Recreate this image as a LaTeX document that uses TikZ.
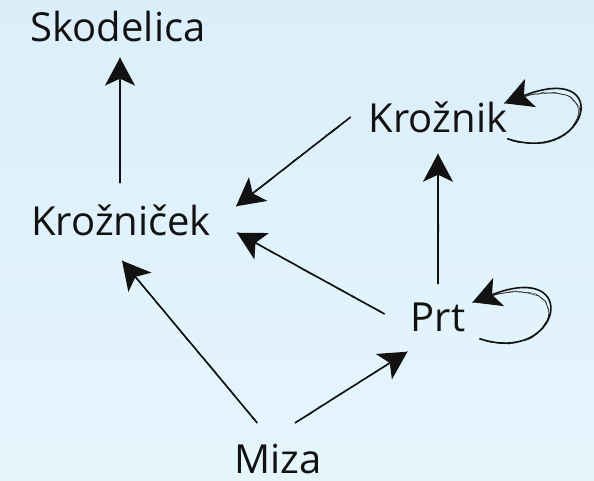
\documentclass[tikz,border=0pt]{standalone}
\usepackage{fontspec}
\setsansfont{Open Sans}
\usetikzlibrary{arrows.meta, calc, decorations.pathmorphing}
\definecolor{bgTop}{RGB}{219,239,250}
\definecolor{bgBot}{RGB}{229,245,252}
\definecolor{ink}  {RGB}{ 18, 18, 18}

\begin{document}
\begin{tikzpicture}[
  x=1pt, y=1pt,
  %% ── node styles ──────────────────────────────────────────────────────────
  word/.style  = {inner sep=0pt, text=ink,
                  font=\fontsize{40}{48}\selectfont\sffamily},
  %% ── arrow styles ─────────────────────────────────────────────────────────
  brush/.style = {-{Stealth[length=28pt, width=30pt, inset=7pt]},
                  line width=1.6pt, color=ink,
                  postaction={draw=ink, -, line width=0.5pt, decorate,
                    decoration={random steps, segment length=4pt, amplitude=0.6pt}},
                  postaction={draw=ink, -, line width=0.4pt, decorate,
                    decoration={random steps, segment length=6pt, amplitude=0.9pt}}},
]
\pgfmathsetseed{11}

%% ── background ─────────────────────────────────────────────────────────────
\shade[top color=bgTop, bottom color=bgBot] (0,0) rectangle (594,-481);
\useasboundingbox (0,0) rectangle (594,-481);

%% ═══════════════════════════════════════════════════════════════════════════
%% NODES
%% ═══════════════════════════════════════════════════════════════════════════
\node[word] (sk) at (118,-27)  {Skodelica};
\node[word] (kc) at (121,-220) {Krožniček};
\node[word] (kn) at (438,-117) {Krožnik};
\node[word] (pr) at (438,-317) {Prt};
\node[word] (mz) at (278,-459) {Miza};

%% ── straight arrows ───────────────────────────────────────────────────────
\draw[brush] ($(kc.north)+(-1,21)$)      -- ($(sk.south)+(2,-15)$);
\draw[brush] ($(kn.west)+(-18,0)$)       -- ($(kc.north east)+(25,-2)$);
\draw[brush] ($(pr.west)+(-26,3)$)       -- ($(kc.south east)+(26,3)$);
\draw[brush] ($(pr.north)+(0,18)$)       -- ($(kn.south)+(0,-21)$);
\draw[brush] ($(mz.north west)+(23,21)$) -- ($(kc.south)+(1,-25)$);
\draw[brush] ($(mz.north)+(17,21)$)      -- ($(pr.south west)+(-3,-20)$);

%% ── self loops ────────────────────────────────────────────────────────────
\draw[brush] ($(kn.south east)+(0,-6)$)
      .. controls +(82,-27) and +(110,43) .. ($(kn.north east)+(-3,-2)$);
\draw[brush] ($(pr.south east)+(14,-7)$)
      .. controls +(82,-27) and +(110,43) .. ($(pr.north east)+(7,0)$);

\end{tikzpicture}
\end{document}
